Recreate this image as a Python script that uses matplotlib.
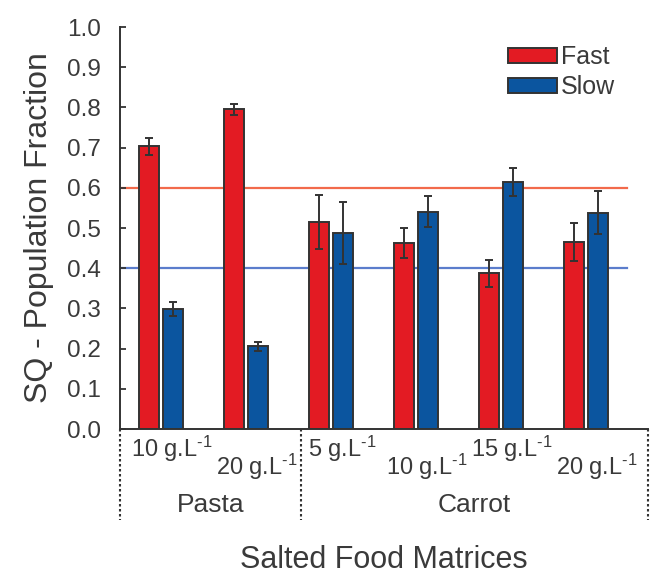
import numpy as np
import matplotlib
matplotlib.use('Agg')
import matplotlib.pyplot as plt

plt.rcParams['font.family'] = ['Liberation Sans', 'DejaVu Sans']
plt.rcParams['mathtext.fontset'] = 'custom'
plt.rcParams['mathtext.rm'] = 'Liberation Sans'
plt.rcParams['mathtext.it'] = 'Liberation Sans'

# data
matrices = ['Pasta', 'Carrot']
n_per_matrix = [2, 4]
conc = ['10 g.L$^{\\text{-1}}$', '20 g.L$^{\\text{-1}}$', '5 g.L$^{\\text{-1}}$',
        '10 g.L$^{\\text{-1}}$', '15 g.L$^{\\text{-1}}$', '20 g.L$^{\\text{-1}}$']
fast = [0.703, 0.795, 0.516, 0.462, 0.387, 0.465]
fast_err = [0.021, 0.014, 0.067, 0.037, 0.033, 0.047]
slow = [0.298, 0.206, 0.488, 0.541, 0.615, 0.538]
slow_err = [0.017, 0.011, 0.077, 0.039, 0.035, 0.053]
ref_fast = 0.6
ref_slow = 0.4

txt = '#3a3a3a'
red = '#e31b23'
blue = '#0b559f'

fig = plt.figure(figsize=(6.5, 5.75), dpi=100)
ax = fig.add_axes([0.1846, 0.2539, 0.8124, 0.6991])

x = np.arange(len(fast))
off = 0.141
w = 0.235
ax.axhline(ref_fast, xmin=0, xmax=0.96, color='#f26a4b', lw=1.6, zorder=1)
ax.axhline(ref_slow, xmin=0, xmax=0.96, color='#5b7dcc', lw=1.6, zorder=1)
ax.bar(x - off, fast, w, color=red, edgecolor='#333333', lw=1.4, label='Fast', zorder=2)
ax.bar(x + off, slow, w, color=blue, edgecolor='#333333', lw=1.4, label='Slow', zorder=2)
ax.errorbar(x - off, fast, yerr=fast_err, fmt='none', ecolor='#333333',
            elinewidth=1.4, capsize=3, capthick=1.4, zorder=3)
ax.errorbar(x + off, slow, yerr=slow_err, fmt='none', ecolor='#333333',
            elinewidth=1.4, capsize=3, capthick=1.4, zorder=3)

xmin, xmax = -0.482, 5.729
ax.set_xlim(xmin, xmax)
ax.set_ylim(0, 1.0)
ax.set_yticks(np.arange(0, 1.01, 0.1))
ax.set_yticklabels(['%.1f' % v for v in np.arange(0, 1.01, 0.1)])
ax.tick_params(axis='y', direction='in', length=4, width=1.3, color='#333333',
               labelsize=17.5, labelcolor=txt, pad=14)
ax.set_xticks([])
for s in ['top', 'right']:
    ax.spines[s].set_visible(False)
for s in ['left', 'bottom']:
    ax.spines[s].set_color('#333333')
    ax.spines[s].set_linewidth(1.4)

ax.set_ylabel('SQ - Population Fraction', fontsize=23, color=txt, labelpad=9)

# category labels under the axis
tr = ax.get_xaxis_transform()
for i, lab in enumerate(conc):
    yy = -0.05 if i % 2 == 0 else -0.095
    ax.text(i + 0.13, yy, lab, transform=tr, ha='center', va='center',
            fontsize=17, color=txt, clip_on=False)

bounds = [xmin]
pos = -0.5
for n in n_per_matrix:
    pos += n
    bounds.append(pos + 0.147)
bounds[-1] = xmax
for b in bounds:
    ax.plot([b, b], [0, -0.226], transform=tr, color='#333333', lw=1.5,
            ls=(0, (1.2, 1.2)), clip_on=False)
for m, a, b in zip(matrices, bounds[:-1], bounds[1:]):
    ax.text((a + b) / 2, -0.19, m, transform=tr, ha='center', va='center',
            fontsize=19, color=txt, clip_on=False)

fig.text(0.59, 0.026, 'Salted Food Matrices', ha='center', va='center',
         fontsize=22, color=txt)

leg = ax.legend(loc='upper left', bbox_to_anchor=(0.735, 0.955), frameon=False,
                fontsize=18, handlelength=1.95, handleheight=0.55,
                handletextpad=0.15, labelspacing=0.25, borderpad=0, borderaxespad=0)
for t in leg.get_texts():
    t.set_color(txt)

fig.savefig('out.png', dpi=100)
